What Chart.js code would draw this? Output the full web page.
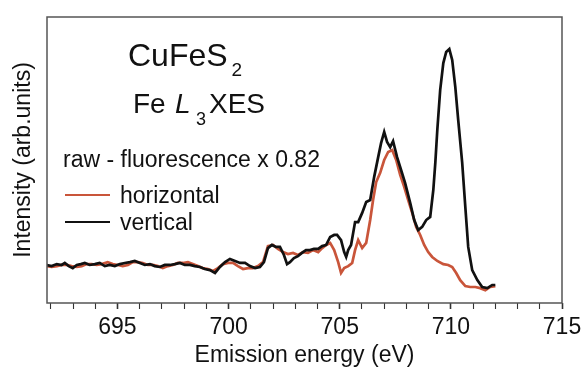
<!DOCTYPE html>
<html>
<head>
<meta charset="utf-8">
<script src="https://cdn.jsdelivr.net/npm/chart.js@4.4.1/dist/chart.umd.min.js"></script>
<style>
  html, body { margin: 0; padding: 0; background: #ffffff; }
  #wrap { width: 581px; height: 367px; position: relative; }
</style>
</head>
<body>
<div id="wrap"><canvas id="c" width="581" height="367"></canvas></div>
<script>
// ---- data ----
const verticalEnergy = [691.82,692.04,692.27,692.49,692.63,692.81,692.99,693.17,693.35,693.53,693.75,693.98,694.20,694.43,694.65,694.88,695.11,695.33,695.56,695.78,696.01,696.23,696.46,696.68,696.91,697.13,697.36,697.58,697.81,698.03,698.26,698.48,698.71,698.93,699.16,699.39,699.61,699.84,700.06,700.29,700.51,700.74,700.96,701.19,701.41,701.59,701.77,701.95,702.13,702.31,702.49,702.63,702.76,702.94,703.12,703.30,703.48,703.66,703.84,704.03,704.21,704.39,704.57,704.75,704.88,705.06,705.20,705.29,705.38,705.51,705.69,705.83,706.01,706.19,706.37,706.55,706.73,706.86,707.00,707.13,707.27,707.40,707.58,707.76,707.94,708.17,708.35,708.53,708.71,708.89,709.07,709.21,709.30,709.39,709.52,709.66,709.79,709.93,710.06,710.20,710.33,710.51,710.65,710.78,710.96,711.19,711.41,711.64,711.86,712.00];
const verticalIntensity = [13.3,12.9,13.6,13.3,14.0,12.9,12.2,13.3,13.6,14.0,13.3,13.6,14.0,12.9,13.3,12.9,13.6,14.0,14.3,14.7,14.0,13.3,13.6,12.9,12.6,13.3,13.3,13.6,14.0,13.3,13.3,12.9,12.6,11.9,11.5,10.5,12.6,14.3,15.4,14.7,14.0,14.0,12.9,12.2,12.6,14.3,19.2,20.3,19.6,19.6,16.8,13.6,14.3,15.7,16.4,17.5,18.5,18.5,18.9,18.9,19.9,20.3,23.1,23.8,23.8,22.0,17.8,16.1,18.5,20.3,28.3,28.3,31.5,35.3,36.0,44.1,51.0,55.9,59.8,56.3,54.5,56.6,51.0,46.5,42.0,35.0,29.0,25.5,26.6,29.0,30.1,39.5,49.0,60.5,74.5,83.9,87.8,88.8,85.0,75.5,64.0,49.0,33.6,19.6,11.5,8.0,5.6,5.2,6.3,6.3];

const horizontalEnergy = [691.82,692.04,692.27,692.49,692.72,692.94,693.17,693.39,693.62,693.84,694.07,694.29,694.56,694.79,695.02,695.24,695.47,695.69,695.92,696.14,696.37,696.59,696.82,697.04,697.27,697.49,697.72,697.94,698.17,698.39,698.62,698.84,699.07,699.30,699.52,699.75,699.97,700.20,700.42,700.65,700.87,701.10,701.32,701.55,701.77,702.00,702.22,702.45,702.67,702.90,703.12,703.35,703.57,703.80,704.03,704.21,704.39,704.57,704.75,704.93,705.06,705.20,705.38,705.56,705.69,705.83,706.01,706.19,706.37,706.50,706.64,706.82,707.00,707.18,707.36,707.54,707.72,707.90,708.08,708.26,708.44,708.62,708.80,708.98,709.16,709.39,709.66,709.88,710.06,710.24,710.42,710.65,710.87,711.10,711.32,711.55,711.77,712.00];
const horizontalIntensity = [12.9,12.6,12.9,13.3,13.3,12.9,12.6,12.9,13.6,13.6,13.3,13.6,14.3,13.6,13.3,12.9,13.3,14.3,14.3,14.0,13.3,13.3,12.9,12.2,12.9,13.3,14.0,14.0,14.3,13.6,12.9,12.2,11.9,11.2,12.2,13.6,14.0,14.0,12.9,11.9,12.2,12.2,12.9,14.3,19.9,20.3,18.9,17.8,17.1,17.5,16.8,17.8,17.5,18.5,17.8,19.2,20.3,21.0,18.5,14.3,10.5,12.2,12.9,14.0,18.5,22.0,19.2,21.0,29.0,36.0,42.3,45.5,50.0,52.8,53.5,50.0,44.8,40.6,36.0,31.5,26.6,23.8,20.3,17.8,16.1,14.7,13.6,13.3,12.6,10.5,8.0,5.9,5.6,5.6,5.2,4.5,5.6,5.9];

const xMin = 691.83, xMax = 715;
const yMin = 0, yMax = 100;
const majorTickLabels = [695, 700, 705, 710, 715];
const firstMinorTick = 692;

const seriesNames = ['vertical', 'horizontal'];
const colVertical = '#111111';
const colHorizontal = '#c9553a';

const FONT = '"Liberation Sans", Arial, Helvetica, sans-serif';

function pts(xs, ys) { return xs.map((x, i) => ({ x: x, y: ys[i] })); }

// texts drawn inside the plot
const textPlugin = {
  id: 'texts',
  afterDraw(chart) {
    const ctx = chart.ctx;
    const a = chart.chartArea;
    ctx.save();
    // frame
    ctx.strokeStyle = '#555555';
    ctx.lineWidth = 1.5;
    ctx.strokeRect(a.left, a.top, a.right - a.left, a.bottom - a.top);

    ctx.fillStyle = '#111111';
    ctx.textBaseline = 'alphabetic';
    ctx.textAlign = 'left';
    // CuFeS2
    ctx.font = '32px ' + FONT;
    ctx.fillText('CuFeS', 128, 66);
    let w = ctx.measureText('CuFeS').width;
    ctx.font = '19px ' + FONT;
    ctx.fillText('2', 128 + w + 4, 76);
    // Fe L3 XES
    ctx.font = '28px ' + FONT;
    ctx.fillText('Fe', 133, 113);
    ctx.font = 'italic 28px ' + FONT;
    ctx.fillText('L', 175, 113);
    ctx.font = '18px ' + FONT;
    ctx.fillText('3', 196, 125);
    ctx.font = '28px ' + FONT;
    ctx.fillText('XES', 209, 113);
    // subtitle
    ctx.font = '23px ' + FONT;
    ctx.fillText('raw - fluorescence x 0.82', 63, 167);
    // legend
    const legend = [
      { name: seriesNames[1], color: colHorizontal, y: 195 },
      { name: seriesNames[0], color: colVertical, y: 222 }
    ];
    legend.forEach(l => {
      ctx.strokeStyle = l.color;
      ctx.lineWidth = 2.2;
      ctx.beginPath();
      ctx.moveTo(65, l.y);
      ctx.lineTo(110, l.y);
      ctx.stroke();
      ctx.fillStyle = '#111111';
      ctx.fillText(l.name, 120, l.y + 8);
    });
    ctx.restore();
  }
};

new Chart(document.getElementById('c'), {
  type: 'line',
  data: {
    datasets: [
      {
        label: seriesNames[0],
        data: pts(verticalEnergy, verticalIntensity),
        borderColor: colVertical,
        borderWidth: 2.7,
        pointRadius: 0,
        tension: 0,
        fill: false
      },
      {
        label: seriesNames[1],
        data: pts(horizontalEnergy, horizontalIntensity),
        borderColor: colHorizontal,
        borderWidth: 2.7,
        pointRadius: 0,
        tension: 0,
        fill: false
      }
    ]
  },
  options: {
    responsive: false,
    animation: false,
    devicePixelRatio: 1,
    layout: { padding: { top: 17, right: 19, left: 0, bottom: 0 } },
    plugins: {
      legend: { display: false },
      tooltip: { enabled: false },
      title: { display: false }
    },
    scales: {
      x: {
        type: 'linear',
        min: xMin,
        max: xMax,
        afterBuildTicks(scale) {
          const t = [];
          for (let v = firstMinorTick; v <= xMax; v++) t.push({ value: v, major: majorTickLabels.includes(v) });
          scale.ticks = t;
        },
        afterFit(scale) {
          scale.height = 64;
          scale.paddingLeft = 0;
          scale.paddingRight = 0;
        },
        ticks: {
          autoSkip: false,
          maxRotation: 0,
          padding: 5,
          color: '#111111',
          font: { family: FONT, size: 23 },
          callback: (v) => majorTickLabels.includes(v) ? String(v) : ''
        },
        grid: {
          display: true,
          drawOnChartArea: false,
          drawTicks: true,
          tickLength: 6,
          tickColor: '#333333',
          tickWidth: (c) => (c.tick && majorTickLabels.includes(c.tick.value)) ? 1.6 : 1.1
        },
        border: { display: false },
        title: {
          display: true,
          text: 'Emission energy (eV)',
          color: '#111111',
          font: { family: FONT, size: 23, lineHeight: 1 },
          padding: { top: 0, bottom: 0 }
        }
      },
      y: {
        type: 'linear',
        min: yMin,
        max: yMax,
        afterFit(scale) { scale.width = 47; },
        ticks: { display: false },
        grid: { display: false },
        border: { display: false },
        title: {
          display: true,
          text: 'Intensity (arb.units)',
          color: '#111111',
          font: { family: FONT, size: 23 },
          padding: { top: 10, bottom: 0 }
        }
      }
    }
  },
  plugins: [textPlugin]
});
</script>
</body>
</html>
